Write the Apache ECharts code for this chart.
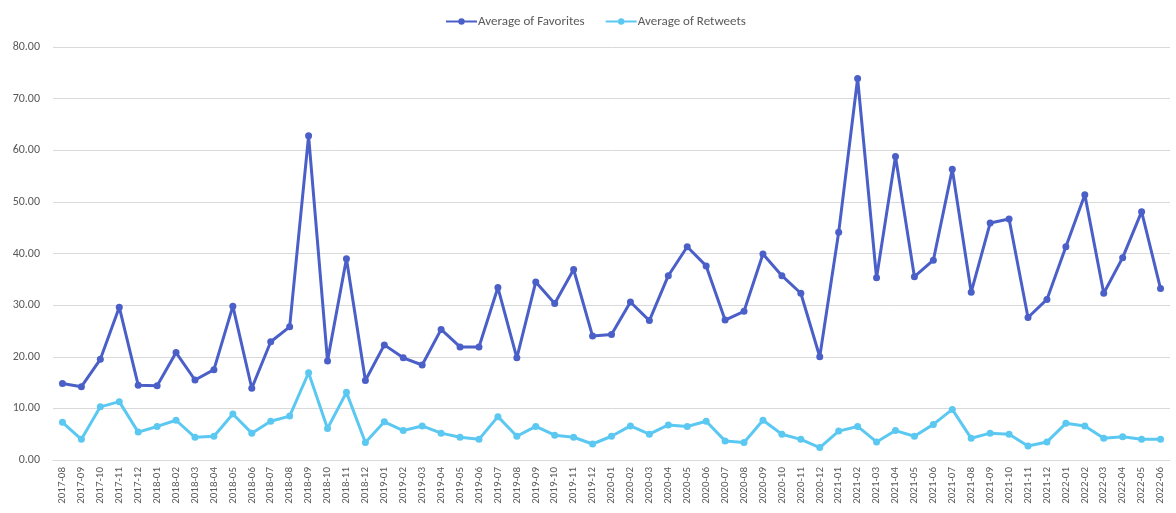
<!DOCTYPE html>
<html>
<head>
<meta charset="utf-8">
<script src="https://cdn.jsdelivr.net/npm/echarts@6/dist/echarts.min.js"></script>
<style>
  html, body { margin: 0; padding: 0; background: #fff; }
  #chart { width: 1176px; height: 513px; }
</style>
</head>
<body>
<div id="chart"></div>
<script>
// Monthly averages of tweet engagement
const months = [
  '2017-08','2017-09','2017-10','2017-11','2017-12',
  '2018-01','2018-02','2018-03','2018-04','2018-05','2018-06','2018-07','2018-08','2018-09','2018-10','2018-11','2018-12',
  '2019-01','2019-02','2019-03','2019-04','2019-05','2019-06','2019-07','2019-08','2019-09','2019-10','2019-11','2019-12',
  '2020-01','2020-02','2020-03','2020-04','2020-05','2020-06','2020-07','2020-08','2020-09','2020-10','2020-11','2020-12',
  '2021-01','2021-02','2021-03','2021-04','2021-05','2021-06','2021-07','2021-08','2021-09','2021-10','2021-11','2021-12',
  '2022-01','2022-02','2022-03','2022-04','2022-05','2022-06'
];

const favorites = [
  14.8, 14.2, 19.5, 29.6, 14.5,
  14.4, 20.8, 15.5, 17.5, 29.8, 13.9, 22.9, 25.8, 62.8, 19.2, 39.0, 15.4,
  22.3, 19.8, 18.4, 25.3, 21.9, 21.9, 33.4, 19.8, 34.5, 30.3, 36.9, 24.0,
  24.3, 30.6, 27.0, 35.7, 41.3, 37.6, 27.1, 28.8, 39.9, 35.7, 32.3, 20.0,
  44.1, 73.9, 35.3, 58.8, 35.5, 38.7, 56.3, 32.5, 45.9, 46.7, 27.6, 31.1,
  41.3, 51.4, 32.3, 39.2, 48.1, 33.2
];

const retweets = [
  7.3, 4.0, 10.3, 11.3, 5.4,
  6.5, 7.7, 4.4, 4.6, 8.9, 5.2, 7.5, 8.5, 16.9, 6.1, 13.1, 3.4,
  7.4, 5.7, 6.6, 5.2, 4.4, 4.0, 8.4, 4.6, 6.5, 4.8, 4.4, 3.1,
  4.6, 6.6, 5.0, 6.8, 6.5, 7.5, 3.7, 3.4, 7.7, 5.0, 4.0, 2.4,
  5.6, 6.5, 3.5, 5.7, 4.6, 6.9, 9.8, 4.2, 5.2, 5.0, 2.7, 3.5,
  7.1, 6.6, 4.2, 4.5, 4.0, 4.0
];

const seriesNames = ['Average of Favorites', 'Average of Retweets'];
const seriesColors = ['#4a5fc7', '#5bc8f2'];

const chart = echarts.init(document.getElementById('chart'), null, { renderer: 'canvas' });

const textColor = '#595959';
const font = 'Calibri, Carlito, "Liberation Sans", Arial, sans-serif';

chart.setOption({
  animation: false,
  backgroundColor: '#ffffff',
  color: seriesColors,
  legend: {
    top: 10,
    left: 440,
    itemWidth: 31,
    itemHeight: 8,
    itemGap: 20,
    textStyle: { color: textColor, fontSize: 13, fontFamily: font, padding: [0, 0, 0, -4] },
    data: seriesNames
  },
  grid: { left: 53, right: 6, top: 47, bottom: 53, containLabel: false },
  xAxis: {
    type: 'category',
    data: months,
    boundaryGap: true,
    axisLine: { show: true, lineStyle: { color: '#d9d9d9', width: 1 } },
    axisTick: { show: false },
    axisLabel: {
      interval: 0,
      rotate: 90,
      margin: 7,
      color: textColor,
      fontSize: 11,
      fontFamily: font
    }
  },
  yAxis: {
    type: 'value',
    min: 0,
    max: 80,
    interval: 10,
    axisLine: { show: false },
    axisTick: { show: false },
    splitLine: { lineStyle: { color: '#d9d9d9', width: 1 } },
    axisLabel: {
      margin: 13,
      color: textColor,
      fontSize: 12,
      fontFamily: font,
      formatter: v => v.toFixed(2)
    }
  },
  series: [
    {
      name: seriesNames[0],
      type: 'line',
      data: favorites,
      symbol: 'circle',
      symbolSize: 7,
      lineStyle: { width: 3, color: seriesColors[0] },
      itemStyle: { color: seriesColors[0] }
    },
    {
      name: seriesNames[1],
      type: 'line',
      data: retweets,
      symbol: 'circle',
      symbolSize: 7,
      lineStyle: { width: 3, color: seriesColors[1] },
      itemStyle: { color: seriesColors[1] }
    }
  ]
});
</script>
</body>
</html>
